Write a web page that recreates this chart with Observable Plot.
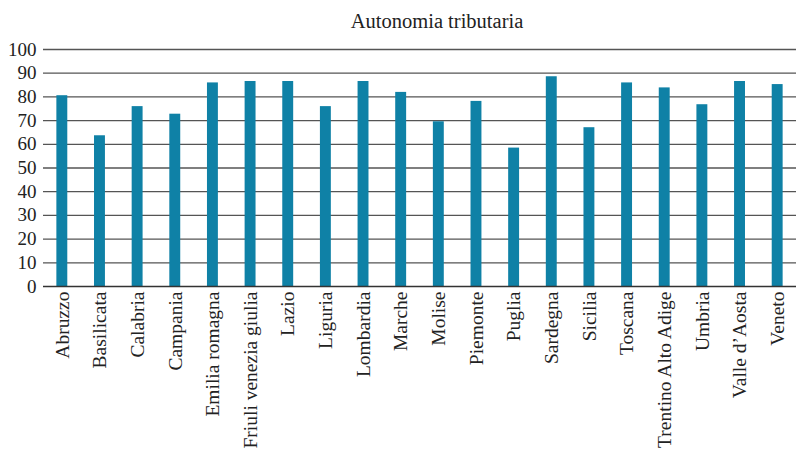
<!DOCTYPE html>
<html>
<head>
<meta charset="utf-8">
<script src="https://cdn.jsdelivr.net/npm/d3@7"></script>
<script src="https://cdn.jsdelivr.net/npm/@observablehq/plot@0.6"></script>
<style>
  html, body { margin: 0; padding: 0; background: #fff; }
  #chart svg { display: block; }
</style>
</head>
<body>
<div id="chart"></div>
<script>
const title = "Autonomia tributaria";
const regions = ["Abruzzo","Basilicata","Calabria","Campania","Emilia romagna","Friuli venezia giulia","Lazio","Liguria","Lombardia","Marche","Molise","Piemonte","Puglia","Sardegna","Sicilia","Toscana","Trentino Alto Adige","Umbria","Valle d\u2019Aosta","Veneto"];
const values = [80.5,63.6,75.9,72.7,85.9,86.5,86.5,75.9,86.5,81.9,69.5,78.1,58.4,88.5,67.0,85.9,83.8,76.7,86.5,85.2];
const yTicks = [0,10,20,30,40,50,60,70,80,90,100];

const data = regions.map((r, i) => ({region: r, value: values[i]}));

const chart = Plot.plot({
  width: 796,
  height: 463,
  marginLeft: 43,
  marginRight: 0,
  marginTop: 49,
  marginBottom: 177,
  style: {fontFamily: "'Liberation Serif', serif", fontSize: "19px", color: "#222", background: "#fff"},
  x: {domain: regions, round: false, paddingInner: 0.71, paddingOuter: 0.355, label: null},
  y: {domain: [0, 100], ticks: yTicks, label: null},
  marks: [
    Plot.ruleY(yTicks.filter(d => d > 0), {stroke: "#555", strokeWidth: 1.3}),
    Plot.barY(data, {x: "region", y: "value", fill: "#0f81a6"}),
    Plot.ruleY([0], {stroke: "#333", strokeWidth: 1.5}),
    Plot.axisY({ticks: yTicks, tickSize: 0, tickPadding: 7, fontSize: 19}),
    Plot.axisX({tickSize: 0, tickPadding: 5, tickRotate: -90, fontSize: 19.5}),
    Plot.text([title], {frameAnchor: "top", dx: 17, dy: -22, lineAnchor: "bottom", fontSize: 20.5, fill: "#222"})
  ]
});
document.getElementById("chart").appendChild(chart);
</script>
</body>
</html>
